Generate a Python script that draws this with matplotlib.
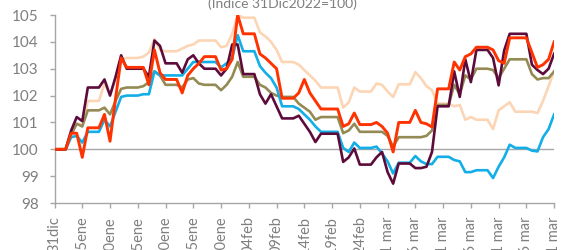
import pandas as pd
import matplotlib.pyplot as plt

# daily index values (31Dic2022 = 100), weekends repeat the Friday value
dates = pd.date_range('2022-12-31', '2023-03-31', freq='D')

maroon = [100, 100, 100, 100.7, 101.2, 101.05, 102.3, 102.3, 102.3, 102.6,
          102.0, 102.7, 103.5, 103.0, 103.0, 103.0, 103.0, 102.7, 104.05, 103.85,
          103.2, 103.2, 103.2, 102.85, 103.35, 103.5, 103.2, 103.0, 103.0, 103.0,
          102.75, 103.0, 103.9, 103.9, 102.8, 102.8, 102.8, 102.05, 101.7, 102.05,
          101.6, 101.15, 101.15, 101.15, 101.25, 100.95, 100.65, 100.27, 100.58, 100.58,
          100.58, 100.58, 99.53, 99.7, 100.03, 99.43, 99.43, 99.43, 99.7, 99.9,
          99.15, 98.72, 99.47, 99.47, 99.47, 99.3, 99.3, 99.35, 99.9, 101.6,
          101.6, 101.6, 102.9, 101.95, 103.35, 102.5, 103.7, 103.7, 103.7, 103.4,
          102.38, 103.68, 104.3, 104.3, 104.3, 104.3, 103.15, 102.95, 102.8, 103.0,
          103.56]

red = [100, 100, 100, 100.6, 100.6, 99.7, 100.8, 100.8, 100.8, 101.3,
       100.3, 101.9, 103.4, 103.05, 103.05, 103.05, 103.05, 102.4, 103.7, 102.85,
       102.6, 102.6, 102.6, 102.1, 102.75, 103.0, 103.2, 103.45, 103.45, 103.45,
       102.95, 103.0, 103.35, 105.0, 104.3, 104.3, 104.3, 103.55, 103.4, 103.2,
       103.0, 101.9, 101.9, 101.9, 102.1, 102.6, 102.1, 101.8, 101.5, 101.5,
       101.5, 101.5, 100.85, 100.95, 101.35, 100.92, 100.92, 100.92, 101.0, 100.85,
       100.6, 99.9, 101.0, 101.0, 101.0, 101.45, 101.0, 100.95, 100.83, 102.25,
       102.25, 102.25, 103.25, 102.95, 103.45, 103.55, 103.8, 103.8, 103.8, 103.7,
       103.3, 103.2, 104.15, 104.15, 104.15, 104.15, 103.6, 103.05, 103.15, 103.35,
       104.0]

olive = [100, 100, 100, 100.55, 100.95, 100.85, 101.45, 101.45, 101.45, 101.55,
         101.3, 101.8, 102.25, 102.3, 102.3, 102.3, 102.35, 102.5, 102.9, 102.75,
         102.4, 102.4, 102.4, 102.3, 102.6, 102.65, 102.45, 102.4, 102.4, 102.4,
         102.2, 102.4, 102.7, 103.25, 102.7, 102.7, 102.7, 102.4, 102.3, 102.1,
         102.0, 101.95, 101.95, 101.95, 101.7, 101.55, 101.4, 101.1, 101.2, 101.2,
         101.2, 101.2, 100.6, 100.7, 100.95, 100.65, 100.65, 100.65, 100.65, 100.65,
         100.5, 100.1, 100.45, 100.45, 100.45, 100.45, 100.45, 100.5, 100.7, 101.65,
         101.65, 101.65, 102.4, 102.05, 102.75, 102.6, 103.0, 103.0, 103.0, 102.95,
         102.65, 103.0, 103.35, 103.35, 103.35, 103.35, 102.8, 102.6, 102.65, 102.65,
         102.9]

blue = [100, 100, 100, 100.45, 100.5, 100.25, 100.65, 100.65, 100.65, 101.1,
        100.85, 101.4, 101.95, 102.0, 102.0, 102.0, 102.05, 102.05, 102.9, 102.75,
        102.75, 102.75, 102.75, 102.75, 103.0, 103.25, 103.25, 103.25, 103.25, 103.25,
        103.05, 103.2, 103.4, 104.25, 103.65, 103.65, 103.65, 103.1, 102.85, 102.65,
        102.3, 101.6, 101.6, 101.6, 101.5, 101.3, 101.1, 100.85, 100.65, 100.65,
        100.65, 100.65, 100.05, 99.9, 100.25, 100.05, 100.05, 100.05, 100.1, 99.85,
        99.55, 99.1, 99.5, 99.5, 99.5, 99.75, 99.55, 99.45, 99.45, 99.72,
        99.72, 99.72, 99.6, 99.55, 99.15, 99.15, 99.22, 99.22, 99.22, 98.93,
        99.35, 99.7, 100.17, 100.05, 100.05, 100.05, 99.95, 99.92, 100.45, 100.75,
        101.3]

peach = [100, 100, 100, 100.55, 100.95, 100.9, 101.8, 101.8, 101.8, 102.45,
         102.05, 102.6, 103.35, 103.4, 103.4, 103.4, 103.45, 103.6, 104.1, 103.7,
         103.65, 103.65, 103.65, 103.75, 103.85, 103.9, 104.05, 104.05, 104.05, 104.05,
         103.8, 103.85, 104.3, 105.0, 104.9, 104.9, 104.9, 104.35, 104.2, 104.0,
         103.7, 103.25, 103.25, 103.25, 103.15, 102.95, 102.75, 102.55, 102.3, 102.3,
         102.3, 102.3, 101.55, 101.75, 102.3, 102.15, 102.15, 102.15, 102.45, 102.4,
         102.15, 101.95, 102.42, 102.42, 102.42, 102.87, 102.65, 102.35, 102.2, 101.7,
         101.7, 101.7, 101.6, 101.65, 101.1, 101.2, 101.1, 101.1, 101.1, 100.75,
         101.45, 101.6, 101.75, 101.4, 101.4, 101.4, 101.4, 101.35, 101.8, 102.35,
         102.9]

tick_labels = ['31dic', '05ene', '10ene', '15ene', '20ene', '25ene', '30ene',
               '04feb', '09feb', '14feb', '19feb', '24feb', '01 mar', '06 mar',
               '11 mar', '16 mar', '21 mar', '26 mar', '31 mar']

plt.rcParams['font.family'] = ['Lato', 'DejaVu Sans']
grey = '#7f7f7f'
axis_grey = '#a6a6a6'

fig = plt.figure(figsize=(5.62, 2.5), dpi=100)
ax = fig.add_axes([0.097, 0.188, 0.889, 0.752])

ax.axhline(100, color=axis_grey, lw=1, zorder=1)
ax.plot(dates, peach, color='#fcd5b5', lw=1.9, zorder=2)
ax.plot(dates, olive, color='#948a54', lw=1.9, zorder=3)
ax.plot(dates, blue, color='#12aee8', lw=1.9, zorder=4)
ax.plot(dates, maroon, color='#5d0b3a', lw=1.9, zorder=5)
ax.plot(dates, red, color='#ff3300', lw=2.1, zorder=6)

ax.set_xlim(dates[0], dates[-1])
ax.set_ylim(98, 105)
ax.set_yticks(range(98, 106))
ax.set_xticks(dates[::5])
ax.set_xticklabels(tick_labels, rotation=90)

for side in ['top', 'right']:
    ax.spines[side].set_visible(False)
for side in ['left', 'bottom']:
    ax.spines[side].set_color(axis_grey)
    ax.spines[side].set_linewidth(1)

ax.tick_params(axis='y', colors=axis_grey, labelcolor=grey, labelsize=11,
               length=3.5, width=1, pad=8)
ax.tick_params(axis='x', colors=axis_grey, labelcolor=grey, labelsize=10.5,
               length=3.5, width=1, pad=6)

fig.text(0.502, 0.97, '(Indice 31Dic2022=100)', ha='center', va='baseline',
         color=grey, fontsize=10)

fig.savefig('out.png', dpi=100)
